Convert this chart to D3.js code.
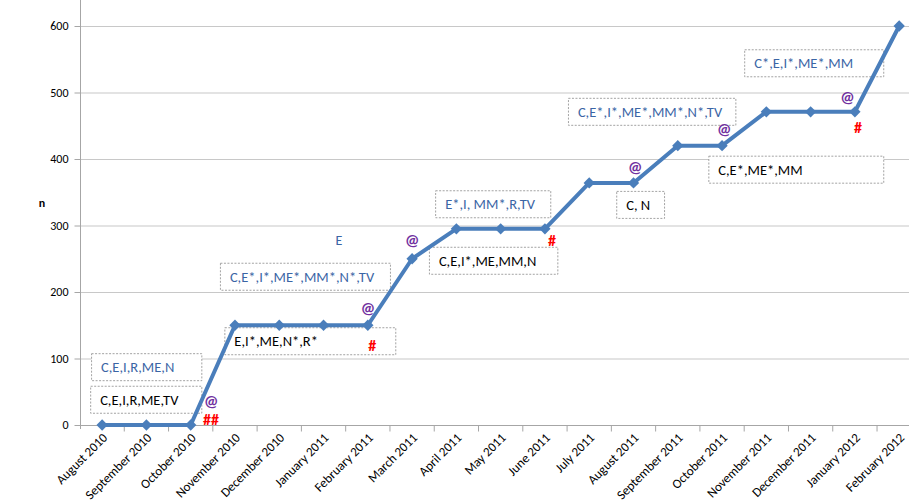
<!DOCTYPE html>
<html>
<head>
<meta charset="utf-8">
<script src="https://cdn.jsdelivr.net/npm/d3@7"></script>
<style>
  body { margin: 0; background: #fff; }
  svg { display: block; font-family: Carlito, Lato, "Open Sans", sans-serif; }
</style>
</head>
<body>
<svg id="chart" width="909" height="501"></svg>
<script>
// months on the x axis
const months = ['August 2010', 'September 2010', 'October 2010', 'November 2010', 'December 2010',
    'January 2011', 'February 2011', 'March 2011', 'April 2011', 'May 2011', 'June 2011',
    'July 2011', 'August 2011', 'September 2011', 'October 2011', 'November 2011',
    'December 2011', 'January 2012', 'February 2012'];

// cumulative n per month
const counts = [0, 0, 0, 150, 150, 150, 150, 250, 295, 295, 295, 364, 364, 420, 420, 471, 471, 471, 600];

const yTicks = [0, 100, 200, 300, 400, 500, 600];

// boxed notes: text, month index span (i0..i1), top value n
const notes = [
    { text: 'C,E,I,R,ME,N', kind: 'blue', i0: -0.25, i1: 2.24, n: 108 },
    { text: 'C,E,I,R,ME,TV', kind: 'black', i0: -0.27, i1: 2.24, n: 59 },
    { text: 'C,E*,I*,ME*,MM*,N*,TV', kind: 'blue', i0: 2.66, i1: 6.5, n: 244 },
    { text: 'E,I*,ME,N*,R*', kind: 'black', i0: 2.76, i1: 6.62, n: 147 },
    { text: 'E*,I, MM*,R,TV', kind: 'blue', i0: 7.52, i1: 10.12, n: 353 },
    { text: 'C,E,I*,ME,MM,N', kind: 'black', i0: 7.38, i1: 10.28, n: 268 },
    { text: 'C,E*,I*,ME*,MM*,N*,TV', kind: 'blue', i0: 10.52, i1: 14.3, n: 492 },
    { text: 'C, N', kind: 'black', i0: 11.61, i1: 12.69, n: 352 },
    { text: 'C,E*,ME*,MM', kind: 'black', i0: 13.69, i1: 17.64, n: 405 },
    { text: 'C*,E,I*,ME*,MM', kind: 'blue', i0: 14.5, i1: 17.64, n: 565 }
];

// loose marks: symbol, month index, value
const marks = [
    { s: '@', i: 2.46, n: 36 },
    { s: '##', i: 2.46, n: 9 },
    { s: '@', i: 6.0, n: 176 },
    { s: '#', i: 6.1, n: 120 },
    { s: '@', i: 7.0, n: 277 },
    { s: '#', i: 10.16, n: 278 },
    { s: '@', i: 12.04, n: 388 },
    { s: '@', i: 14.05, n: 444 },
    { s: '@', i: 16.83, n: 492 },
    { s: '#', i: 17.07, n: 448 },
    { s: 'E', i: 5.35, n: 278 }
];

const svg = d3.select('#chart');
const plotLeft = 80, plotTop = 26, plotBottom = 425;
const bw = 44.28;

const x = d3.scaleBand().domain(months).range([plotLeft, plotLeft + bw * months.length]).padding(0);
const xi = d3.scaleLinear().domain([0, 1]).range([x(months[0]) + bw / 2, x(months[0]) + bw * 1.5]);
const y = d3.scaleLinear().domain([0, 600]).range([plotBottom, plotTop]);

// gridlines
svg.append('g')
    .selectAll('line')
    .data(yTicks.slice(1))
    .enter().append('line')
    .attr('x1', plotLeft).attr('x2', 909)
    .attr('y1', d => y(d) + 0.5).attr('y2', d => y(d) + 0.5)
    .attr('stroke', '#c8c8c8').attr('stroke-width', 1.2);

// y axis
const yAxis = svg.append('g')
    .attr('transform', `translate(${plotLeft + 0.5},0)`)
    .call(d3.axisLeft(y).tickValues(yTicks).tickSize(6).tickPadding(6));
yAxis.select('.domain').attr('stroke', '#a6a6a6').attr('d', `M0,0V${plotBottom + 4}`);
yAxis.selectAll('.tick line').attr('stroke', '#a6a6a6');
yAxis.selectAll('.tick text').attr('font-size', 12).attr('fill', '#000')
    .style('font-family', 'Carlito, Lato, sans-serif');

svg.append('text')
    .attr('x', 42).attr('y', 207)
    .attr('text-anchor', 'middle')
    .attr('font-size', 12).attr('font-weight', 'bold')
    .text('n');

// x axis
const xAxis = svg.append('g').attr('transform', `translate(0,${plotBottom + 0.5})`);
xAxis.append('line')
    .attr('x1', plotLeft).attr('x2', 909)
    .attr('stroke', '#a6a6a6').attr('stroke-width', 1.2);
xAxis.selectAll('line.tk')
    .data(months.slice(1))
    .enter().append('line')
    .attr('class', 'tk')
    .attr('x1', d => x(d)).attr('x2', d => x(d))
    .attr('y1', 0).attr('y2', 6)
    .attr('stroke', '#a6a6a6');
xAxis.selectAll('text')
    .data(months)
    .enter().append('text')
    .attr('transform', d => `translate(${x(d) + bw / 2 + 6},13) rotate(-45)`)
    .attr('text-anchor', 'end')
    .attr('font-size', 13)
    .text(d => d);

// boxed notes
const noteG = svg.append('g').selectAll('g')
    .data(notes)
    .enter().append('g');
noteG.append('rect')
    .attr('x', d => xi(d.i0) + 0.5)
    .attr('y', d => y(d.n) + 0.5)
    .attr('width', d => xi(d.i1) - xi(d.i0))
    .attr('height', 27)
    .attr('fill', '#fff')
    .attr('stroke', '#8c8c8c')
    .attr('stroke-dasharray', '2,1.5')
    .attr('stroke-width', 0.8);
noteG.append('text')
    .attr('x', d => xi(d.i0) + 10)
    .attr('y', d => y(d.n) + 14)
    .attr('dy', '0.35em')
    .attr('font-size', 14.5)
    .attr('fill', d => d.kind === 'blue' ? '#3a65a5' : '#000')
    .text(d => d.text);

// line
svg.append('path')
    .datum(counts)
    .attr('fill', 'none')
    .attr('stroke', '#4a7ebb')
    .attr('stroke-width', 4)
    .attr('stroke-linejoin', 'round')
    .attr('d', d3.line().x((d, i) => x(months[i]) + bw / 2).y(d => y(d)));

svg.append('g').selectAll('path')
    .data(counts)
    .enter().append('path')
    .attr('transform', (d, i) => `translate(${x(months[i]) + bw / 2},${y(d)}) rotate(45)`)
    .attr('d', d3.symbol(d3.symbolSquare, 64))
    .attr('fill', '#4a7ebb');

// loose marks
svg.append('g').selectAll('text')
    .data(marks)
    .enter().append('text')
    .attr('x', d => xi(d.i))
    .attr('y', d => y(d.n))
    .attr('dy', '0.35em')
    .attr('text-anchor', 'middle')
    .attr('font-size', d => d.s === 'E' ? 14 : 16)
    .attr('font-weight', d => d.s === 'E' ? 'normal' : 'bold')
    .attr('fill', d => d.s === 'E' ? '#3a65a5' : (d.s === '@' ? '#7030a0' : '#ff0000'))
    .text(d => d.s);
</script>
</body>
</html>
